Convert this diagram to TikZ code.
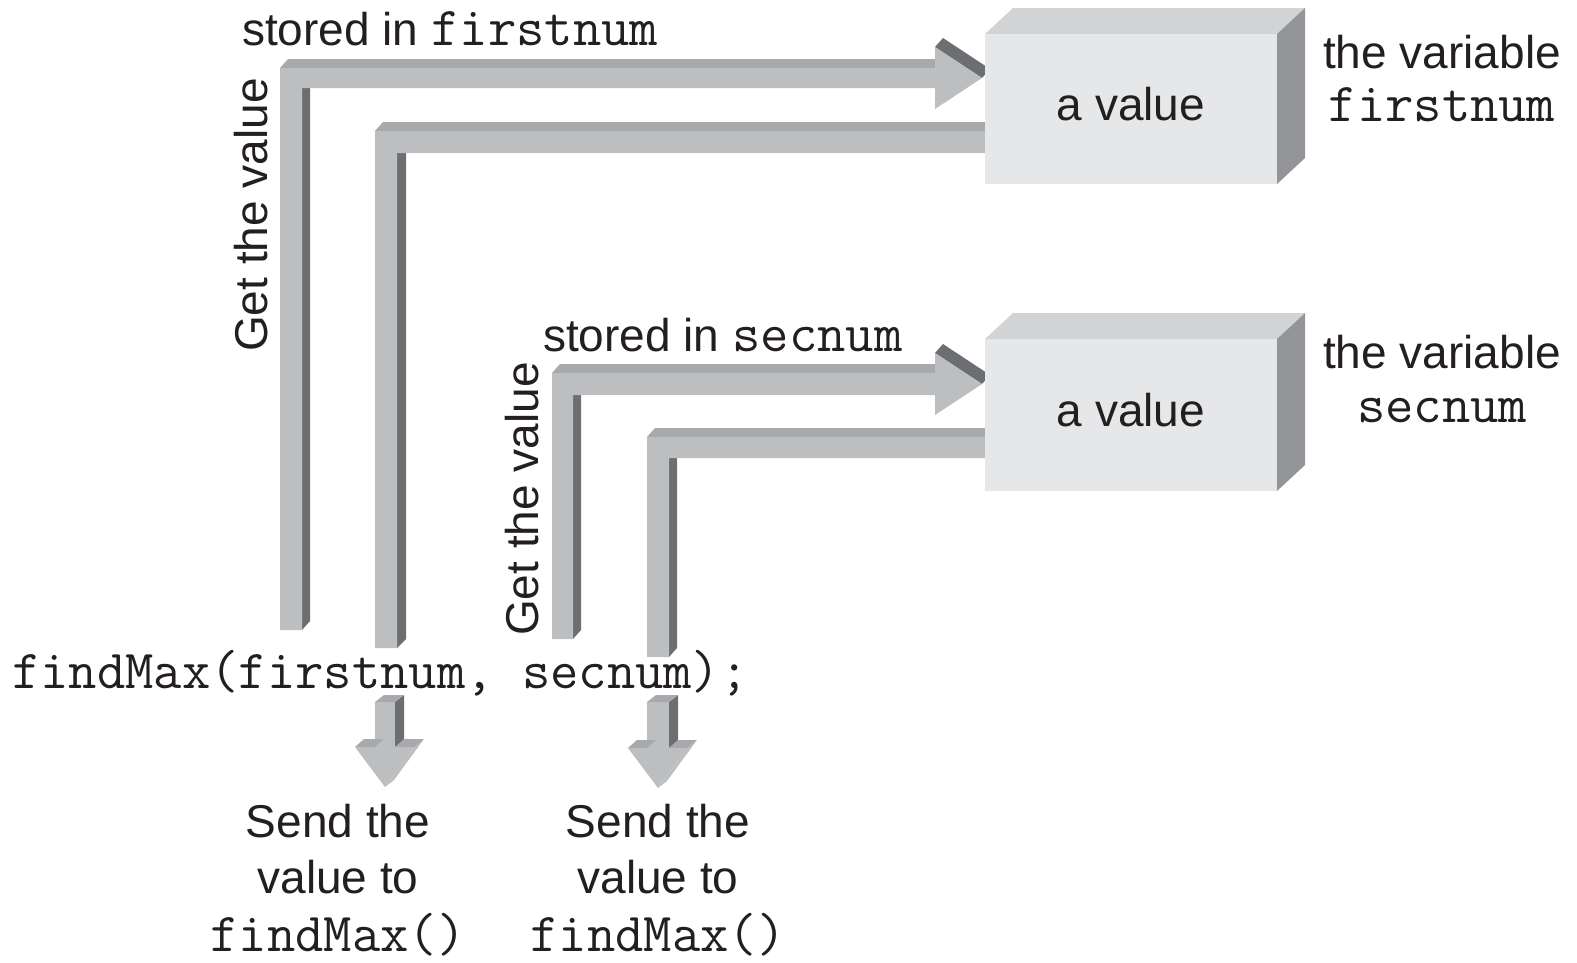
\documentclass[tikz,border=0pt]{standalone}
\usepackage{fontspec}
\setmainfont{Liberation Sans}
\definecolor{arrfront}{HTML}{BCBEC0}
\definecolor{arrtop}{HTML}{A7A9AC}
\definecolor{arrside}{HTML}{6D6E71}
\definecolor{boxfront}{HTML}{E6E7E8}
\definecolor{boxtop}{HTML}{D1D3D4}
\definecolor{boxside}{HTML}{939598}
\definecolor{txtcol}{HTML}{231F20}
\newcommand\txtsize{\fontsize{46}{55}\selectfont}
\newcommand\codefont{\ttfamily\fontsize{55}{57}\selectfont}
\begin{document}
\begin{tikzpicture}[x=1pt,y=-1pt,
  fr/.style={fill=arrfront},
  tp/.style={fill=arrtop},
  sd/.style={fill=arrside},
  bfr/.style={fill=boxfront},
  btp/.style={fill=boxtop},
  bsd/.style={fill=boxside},
  txt/.style={inner sep=0pt, text=txtcol, font=\txtsize}]
\useasboundingbox (0,0) rectangle (1577,962);

% ---- arrow 1: get the value stored in firstnum
\path[sd] (302,88) -- (310,79) -- (310,621) -- (302,630) -- cycle;
\path[tp] (280,68) -- (288,59) -- (943,59) -- (935,68) -- cycle;
\path[sd] (935,47) -- (943,38) -- (990,69) -- (982,78) -- cycle;
\path[fr] (280,630) -- (280,68) -- (935,68) -- (935,47) -- (982,78)
  -- (935,109) -- (935,88) -- (302,88) -- (302,630) -- cycle;

% ---- arrow 2: send firstnum value to findMax
\path[sd] (397,153) -- (406,144) -- (406,639) -- (397,648) -- cycle;
\path[tp] (375,131) -- (383,122) -- (990,122) -- (990,131) -- cycle;
\path[fr] (990,131) -- (375,131) -- (375,648) -- (397,648) -- (397,153)
  -- (990,153) -- cycle;

% ---- arrow 3: get the value stored in secnum
\path[sd] (573,395) -- (581,386) -- (581,630) -- (573,639) -- cycle;
\path[tp] (552,373) -- (560,364) -- (943,364) -- (935,373) -- cycle;
\path[sd] (935,353) -- (943,344) -- (990,375) -- (982,384) -- cycle;
\path[fr] (552,639) -- (552,373) -- (935,373) -- (935,353) -- (982,384)
  -- (935,415) -- (935,395) -- (573,395) -- (573,639) -- cycle;

% ---- arrow 4: send secnum value to findMax
\path[sd] (669,458) -- (677,449) -- (677,648) -- (669,657) -- cycle;
\path[tp] (647,437) -- (655,428) -- (990,428) -- (990,437) -- cycle;
\path[fr] (990,437) -- (647,437) -- (647,657) -- (669,657) -- (669,458)
  -- (990,458) -- cycle;

% ---- box 1
\path[btp] (985,34) -- (1013,8) -- (1305,8) -- (1277,34) -- cycle;
\path[bsd] (1277,34) -- (1305,8) -- (1305,158) -- (1277,184) -- cycle;
\path[bfr] (985,34) rectangle (1277,184);
% ---- box 2
\path[btp] (985,339) -- (1013,313) -- (1305,313) -- (1277,339) -- cycle;
\path[bsd] (1277,339) -- (1305,313) -- (1305,465) -- (1277,491) -- cycle;
\path[bfr] (985,339) rectangle (1277,491);

% ---- down arrow A
\path[sd] (395,702) -- (404,695) -- (404,741) -- (395,747) -- cycle;
\path[tp] (375,702) -- (384,695) -- (404,695) -- (395,702) -- cycle;
\path[fr] (375,702) rectangle (395,747);
\path[tp] (355,747) -- (364,739) -- (384,739) -- (375,747) -- cycle;
\path[tp] (395,747) -- (404,739) -- (424,739) -- (415,747) -- cycle;
\path[fr] (415,747) -- (424,739) -- (394,780) -- (385,787) -- cycle;
\path[fr] (355,747) -- (415,747) -- (385,787) -- cycle;

% ---- down arrow B
\path[sd] (669,702) -- (678,695) -- (678,741) -- (669,748) -- cycle;
\path[tp] (647,702) -- (656,695) -- (678,695) -- (669,702) -- cycle;
\path[fr] (647,702) rectangle (669,748);
\path[tp] (628,748) -- (637,740) -- (656,740) -- (647,748) -- cycle;
\path[tp] (669,748) -- (678,740) -- (697,740) -- (688,748) -- cycle;
\path[fr] (688,748) -- (697,740) -- (667,781) -- (658,788) -- cycle;
\path[fr] (628,748) -- (688,748) -- (658,788) -- cycle;

% ---- texts
\node[txt, anchor=base west] (st1) at (242,45) {stored in {\codefont firstnum}};
\node[txt, rotate=90, anchor=base west] (gv1) at (267,352) {Get the value};
\node[txt, anchor=base west] (st2) at (543,351) {stored in {\codefont secnum}};
\node[txt, rotate=90, anchor=base west] (gv2) at (538,636) {Get the value};
\node[txt, anchor=base] (av1) at (1131,120) {a value};
\node[txt, anchor=base] (av2) at (1131,426) {a value};
\node[txt, anchor=base] (tv1) at (1442,68) {the variable};
\node[txt, anchor=base] (tn1) at (1442,121) {\codefont firstnum};
\node[txt, anchor=base] (tv2) at (1442,368) {the variable};
\node[txt, anchor=base] (tn2) at (1442,422) {\codefont secnum};
\node[txt, anchor=base west] (call) at (12,688) {\codefont findMax(firstnum, secnum);};
\node[txt, anchor=base] (s1a) at (338,837) {Send the};
\node[txt, anchor=base] (s1b) at (338,893) {value to};
\node[txt, anchor=base] (s1c) at (338,951) {\codefont findMax()};
\node[txt, anchor=base] (s2a) at (658,837) {Send the};
\node[txt, anchor=base] (s2b) at (658,893) {value to};
\node[txt, anchor=base] (s2c) at (658,951) {\codefont findMax()};
\end{tikzpicture}
\end{document}
